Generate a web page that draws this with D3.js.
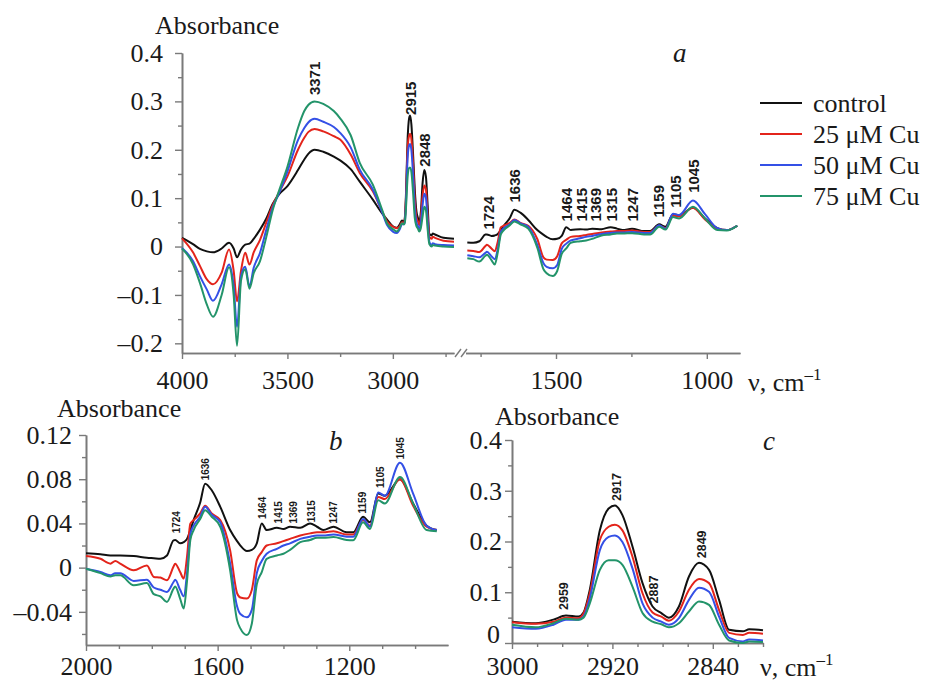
<!DOCTYPE html>
<html>
<head>
<meta charset="utf-8">
<script src="https://cdn.jsdelivr.net/npm/d3@7"></script>
<style>
body { margin: 0; background: #fff; }
text { font-family: "Liberation Serif", "Times New Roman", serif; fill: #1a1a1a; }
text.ann { font-family: "Liberation Sans", Arial, sans-serif; font-weight: bold; }
</style>
</head>
<body>
<script>
var W = 930, H = 684;

// series names / colours
var seriesNames = ["control", "25 \u03bcM Cu", "50 \u03bcM Cu", "75 \u03bcM Cu"];
var seriesColors = ["#111111", "#e3241b", "#3450e6", "#23946a"];

// high wavenumber region (4000 - 2710 cm-1)
var hiWn = [4000, 3948, 3915, 3882, 3853, 3812, 3777, 3755, 3739, 3720, 3700, 3680, 3660, 3630, 3600, 3570, 3540, 3500, 3450, 3420, 3400, 3371, 3330, 3280, 3250, 3200, 3157, 3095, 3050, 3028,
    3000, 2981, 2967, 2957, 2947, 2943, 2938, 2930, 2923, 2918, 2912, 2904, 2896, 2888, 2881, 2875, 2867, 2859, 2851, 2843, 2835, 2827, 2816, 2811, 2800, 2760, 2710];
var hiControl = [0.018, 0.005, -0.005, -0.01, -0.012, -0.004, 0.008, -0.004, -0.022, -0.006, 0.004, 0.006, 0.016, 0.035, 0.058, 0.088, 0.108, 0.125, 0.158, 0.18, 0.192, 0.2, 0.196, 0.186, 0.178, 0.16, 0.134, 0.097, 0.068, 0.056,
    0.042, 0.039, 0.046, 0.054, 0.052, 0.060, 0.105, 0.222, 0.265, 0.271, 0.252, 0.190, 0.118, 0.072, 0.059, 0.050, 0.072, 0.131, 0.158, 0.144, 0.085, 0.026, 0.023, 0.027, 0.025, 0.018, 0.016];
var hiCu25 = [0.017, -0.012, -0.04, -0.068, -0.078, -0.054, -0.006, -0.05, -0.113, -0.05, -0.013, -0.037, -0.012, 0.014, 0.05, 0.085, 0.112, 0.145, 0.2, 0.225, 0.237, 0.243, 0.238, 0.228, 0.221, 0.19, 0.152, 0.114, 0.072, 0.052,
    0.041, 0.038, 0.042, 0.050, 0.049, 0.058, 0.098, 0.203, 0.229, 0.233, 0.222, 0.170, 0.098, 0.060, 0.052, 0.044, 0.062, 0.105, 0.126, 0.118, 0.065, 0.020, 0.016, 0.020, 0.018, 0.012, 0.010];
var hiCu50 = [-0.003, -0.03, -0.061, -0.089, -0.112, -0.078, -0.037, -0.082, -0.166, -0.061, -0.042, -0.082, -0.044, -0.013, 0.035, 0.08, 0.11, 0.155, 0.22, 0.245, 0.257, 0.264, 0.258, 0.247, 0.235, 0.205, 0.159, 0.118, 0.07, 0.045,
    0.031, 0.028, 0.036, 0.046, 0.046, 0.052, 0.088, 0.183, 0.209, 0.212, 0.199, 0.147, 0.078, 0.050, 0.042, 0.036, 0.049, 0.085, 0.109, 0.101, 0.052, 0.010, 0.003, 0.007, 0.005, 0.003, 0.002];
var hiCu75 = [-0.004, -0.036, -0.075, -0.12, -0.145, -0.1, -0.043, -0.1, -0.205, -0.07, -0.047, -0.087, -0.055, -0.03, 0.02, 0.075, 0.115, 0.165, 0.245, 0.28, 0.293, 0.30, 0.295, 0.28, 0.265, 0.23, 0.173, 0.128, 0.075, 0.048,
    0.036, 0.031, 0.039, 0.048, 0.046, 0.050, 0.078, 0.144, 0.163, 0.163, 0.154, 0.111, 0.059, 0.042, 0.037, 0.031, 0.039, 0.062, 0.082, 0.075, 0.036, 0.005, 0.000, 0.003, 0.002, 0.0, -0.001];

// low wavenumber region (2000 - 900 cm-1)
var loWn = [2000, 1956, 1926, 1911, 1896, 1855, 1815, 1794, 1774, 1754, 1734, 1729, 1714, 1703, 1693, 1683, 1673, 1653, 1638, 1618, 1592, 1562, 1541, 1531, 1511, 1496, 1481, 1466,
    1451, 1420, 1400, 1380, 1349, 1319, 1298, 1279, 1248, 1208, 1188, 1158, 1137, 1112, 1092, 1046, 1006, 965, 934, 899];
var loControl = [0.013, 0.012, 0.011, 0.011, 0.011, 0.0105, 0.009, 0.0085, 0.008, 0.011, 0.0247, 0.025, 0.022, 0.023, 0.026, 0.034, 0.043, 0.059, 0.076, 0.07, 0.055, 0.034, 0.024, 0.020, 0.015, 0.016, 0.022, 0.040,
    0.034, 0.036, 0.035, 0.037, 0.036, 0.040, 0.037, 0.034, 0.037, 0.032, 0.032, 0.046, 0.041, 0.067, 0.065, 0.080, 0.058, 0.038, 0.034, 0.043];
var loCu25 = [0.0105, 0.008, 0.0036, 0.006, 0.0036, -0.0024, 0.002, -0.0084, -0.009, -0.0114, 0.001, 0.0036, -0.004, -0.0099, 0.01, 0.0397, 0.043, 0.049, 0.056, 0.049, 0.043, 0.0156, -0.023, -0.027, -0.028, -0.020, 0.0066, 0.014,
    0.020, 0.022, 0.024, 0.026, 0.029, 0.031, 0.032, 0.032, 0.033, 0.030, 0.030, 0.043, 0.038, 0.064, 0.062, 0.080, 0.056, 0.037, 0.034, 0.043];
var loCu50 = [-0.001, -0.004, -0.007, -0.005, -0.005, -0.012, -0.011, -0.018, -0.020, -0.022, -0.013, -0.011, -0.020, -0.026, -0.005, 0.030, 0.038, 0.046, 0.055, 0.048, 0.041, 0.0036, -0.035, -0.042, -0.045, -0.038, -0.005, 0.006,
    0.0126, 0.017, 0.020, 0.022, 0.026, 0.028, 0.029, 0.029, 0.030, 0.028, 0.028, 0.044, 0.037, 0.068, 0.065, 0.095, 0.067, 0.038, 0.034, 0.043];
var loCu75 = [-0.001, -0.005, -0.008, -0.007, -0.007, -0.016, -0.014, -0.024, -0.026, -0.031, -0.019, -0.017, -0.028, -0.037, -0.012, 0.025, 0.034, 0.044, 0.052, 0.046, 0.037, -0.0024, -0.0475, -0.055, -0.061, -0.0505, -0.015, -0.004,
    0.008, 0.011, 0.0126, 0.016, 0.023, 0.025, 0.027, 0.027, 0.0277, 0.025, 0.0247, 0.041, 0.035, 0.061, 0.058, 0.082, 0.058, 0.034, 0.033, 0.043];

// peak labels (wavenumber, absorbance where label starts)
var annA_wn = [3371, 2915, 2848, 1724, 1636, 1464, 1415, 1369, 1315, 1247, 1159, 1105, 1045];
var annA_pos = [0.313, 0.272, 0.165, 0.035, 0.091, 0.052, 0.052, 0.052, 0.052, 0.052, 0.06, 0.08, 0.111];
var annB_wn = [1724, 1636, 1464, 1415, 1369, 1315, 1247, 1159, 1105, 1045];
var annB_pos = [0.031, 0.079, 0.044, 0.040, 0.040, 0.041, 0.040, 0.049, 0.072, 0.098];
var annC_wn = [2959, 2917, 2887, 2849];
var annC_pos = [0.065, 0.28, 0.078, 0.167];

// ticks
var aYMajor = [-0.2, -0.1, 0, 0.1, 0.2, 0.3, 0.4], aYMinor = [-0.15, -0.05, 0.05, 0.15, 0.25, 0.35];
var aXLMajor = [4000, 3500, 3000], aXLMinor = [3750, 3250, 2750];
var aXRMajor = [1500, 1000], aXRMinor = [1750, 1250];
var bYMajor = [-0.04, 0, 0.04, 0.08, 0.12], bYMinor = [-0.06, -0.02, 0.02, 0.06, 0.1];
var bXMajor = [2000, 1600, 1200], bXMinor = [1900, 1800, 1700, 1500, 1400, 1300, 1100, 1000];
var cYMajor = [0, 0.1, 0.2, 0.3, 0.4], cYMinor = [0.05, 0.15, 0.25, 0.35];
var cXMajor = [3000, 2920, 2840], cXMinor = [2980, 2960, 2940, 2900, 2880, 2860, 2820, 2800];

var hiSeries = [hiControl, hiCu25, hiCu50, hiCu75];
var loSeries = [loControl, loCu25, loCu50, loCu75];

var svg = d3.select("body").append("svg")
    .attr("width", W)
    .attr("height", H);
svg.append("rect").attr("width", W).attr("height", H).attr("fill", "#fff");

function fmt(d) {
    if (d === 0) return "0";
    return (d < 0 ? "\u2013" : "") + Math.abs(d);
}

function styleAxis(g) {
    g.attr("font-family", null).attr("font-size", null);
    g.selectAll("path.domain").attr("stroke", "#7a7a7a").attr("stroke-width", 1.6);
    g.selectAll(".tick line").attr("stroke", "#7a7a7a").attr("stroke-width", 1.4);
    g.selectAll(".tick text").attr("font-size", 26).attr("fill", "#1a1a1a");
}

function yAxis(x0, y, major, minor, pad) {
    svg.append("g").attr("transform", "translate(" + x0 + ",0)")
        .call(d3.axisLeft(y).tickValues(minor).tickSize(4).tickFormat("").tickSizeOuter(0))
        .call(styleAxis);
    return svg.append("g").attr("transform", "translate(" + x0 + ",0)")
        .call(d3.axisLeft(y).tickValues(major).tickSize(7).tickPadding(pad).tickFormat(fmt).tickSizeOuter(0))
        .call(styleAxis);
}

function xAxis(y0, x, major, minor, pad) {
    svg.append("g").attr("transform", "translate(0," + y0 + ")")
        .call(d3.axisBottom(x).tickValues(minor).tickSize(4).tickFormat("").tickSizeOuter(0))
        .call(styleAxis);
    svg.append("g").attr("transform", "translate(0," + y0 + ")")
        .call(d3.axisBottom(x).tickValues(major).tickSize(6).tickPadding(pad).tickFormat(d3.format("d")).tickSizeOuter(0))
        .call(styleAxis);
}

function drawLines(wn, series, x, y) {
    var d0 = x.domain();
    var hi = Math.max(d0[0], d0[1]), lo = Math.min(d0[0], d0[1]);
    var line = d3.line()
        .x(function(p) { return x(p[0]); })
        .y(function(p) { return y(p[1]); })
        .curve(d3.curveMonotoneX);
    series.forEach(function(vals, i) {
        var pts = wn.map(function(w, j) { return [w, vals[j]]; })
            .filter(function(p) { return p[0] <= hi && p[0] >= lo; });
        svg.append("path").datum(pts)
            .attr("d", line)
            .attr("fill", "none")
            .attr("stroke", seriesColors[i])
            .attr("stroke-width", 2)
            .attr("stroke-linejoin", "round");
    });
}

function drawAnn(wns, pos, x, y, size) {
    wns.forEach(function(w, i) {
        var px = x(w), py = y(pos[i]);
        svg.append("text")
            .attr("class", "ann")
            .attr("transform", "translate(" + px + "," + py + ") rotate(-90)")
            .attr("dy", "0.36em")
            .attr("font-size", size)
            .text(w);
    });
}

function nuLabel(x0, y0) {
    var t = svg.append("text").attr("x", x0).attr("y", y0).attr("font-size", 26);
    t.append("tspan").text("\u03bd, cm");
    t.append("tspan").attr("dy", -11).attr("font-size", 17).text("\u20131");
}

// ---------- panel a ----------
var xaL = d3.scaleLinear().domain([4000, 2710]).range([182, 454]);
var xaR = d3.scaleLinear().domain([1800, 890]).range([465.5, 740]);
var ya = d3.scaleLinear().domain([-0.22, 0.4]).range([353, 53]);

yAxis(182, ya, aYMajor, aYMinor, 12);
xAxis(353, xaL, aXLMajor, aXLMinor, 12);
xAxis(353, xaR, aXRMajor, aXRMinor, 12);
// axis break
[0, 6].forEach(function(o) {
    svg.append("line")
        .attr("x1", 455 + o).attr("y1", 357)
        .attr("x2", 461 + o).attr("y2", 349)
        .attr("stroke", "#7a7a7a").attr("stroke-width", 1.4);
});

drawLines(hiWn, hiSeries, xaL, ya);
drawLines(loWn, loSeries, xaR, ya);
drawAnn(annA_wn.slice(0, 3), annA_pos.slice(0, 3), xaL, ya, 15);
drawAnn(annA_wn.slice(3), annA_pos.slice(3), xaR, ya, 15);

svg.append("text").attr("x", 155).attr("y", 34).attr("font-size", 26).text("Absorbance");
svg.append("text").attr("x", 673).attr("y", 62).attr("font-size", 27).attr("font-style", "italic").text("a");
nuLabel(748, 391);

// legend
seriesNames.forEach(function(n, i) {
    var ly = 103 + i * 31;
    svg.append("line").attr("x1", 760).attr("x2", 802).attr("y1", ly).attr("y2", ly)
        .attr("stroke", seriesColors[i]).attr("stroke-width", 2);
    svg.append("text").attr("x", 813).attr("y", ly + 9).attr("font-size", 26).text(n);
});

// ---------- panel b ----------
var xb = d3.scaleLinear().domain([2000, 900]).range([86, 448]);
var yb = d3.scaleLinear().domain([-0.07, 0.12]).range([645, 435]);

yAxis(86, yb, bYMajor, bYMinor, 7);
xAxis(645, xb, bXMajor, bXMinor, 6);
drawLines(loWn, loSeries, xb, yb);
drawAnn(annB_wn, annB_pos, xb, yb, 10);

svg.append("text").attr("x", 57).attr("y", 417).attr("font-size", 26).text("Absorbance");
svg.append("text").attr("x", 329).attr("y", 450).attr("font-size", 27).attr("font-style", "italic").text("b");

// ---------- panel c ----------
var xc = d3.scaleLinear().domain([3000, 2800]).range([512, 763]);
var yc = d3.scaleLinear().domain([0, 0.4]).range([643, 440]);

var cy = yAxis(512, yc, cYMajor, cYMinor, 3);
// the zero label sits a little above its tick, clear of "3000"
cy.selectAll(".tick text").filter(function(d) { return d === 0; }).attr("y", -9).attr("x", -12);
xAxis(643, xc, cXMajor, cXMinor, 8);
drawLines(hiWn, hiSeries, xc, yc);
drawAnn(annC_wn, annC_pos, xc, yc, 12.5);

svg.append("text").attr("x", 495).attr("y", 425).attr("font-size", 26).text("Absorbance");
svg.append("text").attr("x", 763).attr("y", 450).attr("font-size", 27).attr("font-style", "italic").text("c");
nuLabel(760, 676);
</script>
</body>
</html>
